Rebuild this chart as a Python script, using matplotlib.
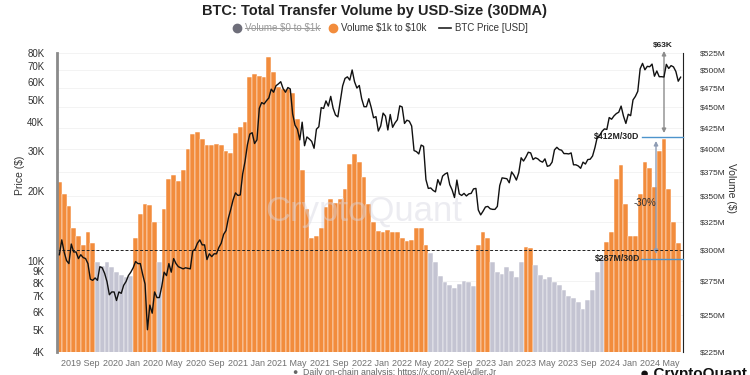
import numpy as np
import pandas as pd
import matplotlib
matplotlib.use('Agg')
import matplotlib.pyplot as plt
import matplotlib.dates as mdates
from matplotlib.ticker import FixedLocator, FixedFormatter, NullLocator
from matplotlib.transforms import blended_transform_factory
from matplotlib.lines import Line2D

plt.rcParams['font.family'] = ['Liberation Sans', 'DejaVu Sans']

# ---------------- data ----------------
start_date = '2019-07-01'

# Volume $1k to $10k (30DMA), $M, one reading every 14 days
volume_1k_10k = [364, 352, 340, 320, 313, 305, 316, 306, 290, 287,
                 290, 286, 282, 280, 278, 279, 311, 333, 342, 341,
                 325, 290, 337, 367, 372, 365, 377, 400, 417, 420,
                 411, 405, 405, 406, 404, 398, 395, 419, 426, 432,
                 490, 494, 492, 490, 519, 498, 477, 474, 474, 469,
                 435, 377, 337, 311, 313, 320, 339, 347, 343, 347,
                 357, 383, 394, 385, 369, 342, 325, 317, 316, 318,
                 316, 316, 311, 308, 309, 320, 320, 305, 298, 290,
                 279, 274, 272, 270, 273, 275, 274, 271, 305, 316,
                 311, 290, 282, 281, 286, 283, 278, 290, 303, 302,
                 288, 280, 277, 278, 274, 272, 268, 264, 262, 259,
                 254, 261, 268, 282, 294, 307, 316, 367, 382, 342,
                 313, 313, 352, 386, 379, 359, 398, 412, 357, 325,
                 306]

# BTC price (USD), one reading every 7 days
price_2019 = [10600, 12300, 10900, 10000, 9700, 11800, 10900, 10900, 10200, 10600,
              10300, 10200, 9700, 8300, 8200, 8400, 8200, 9400, 9300, 8800,
              8100, 7100, 7300, 7300, 6700, 7300, 7200]
price_2020 = [7800, 8100, 8600, 8900, 9300, 9900, 9700, 9700, 8700, 7900,
              5000, 6400, 5900, 7300, 6900, 6900, 7700, 8900, 8600, 9700,
              8900, 10200, 9700, 9400, 9300, 9200, 9300, 9250, 9200, 11000,
              11200, 11900, 12300, 11700, 11700, 10100, 10700, 10400, 10700, 10700,
              11400, 11900, 13000, 13500, 15300, 16700, 18400, 19700, 19200, 19300,
              23800, 27000]
price_2021 = [31900, 35500, 36000, 32300, 33500, 46000, 48700, 48000, 49600, 51000,
              55700, 54000, 57600, 58700, 60000, 56000, 54000, 56600, 55800, 43500,
              38800, 37300, 33500, 40000, 31600, 34500, 33800, 33000, 30800, 37300,
              38200, 46300, 45900, 49500, 47000, 51800, 46000, 43000, 42200, 49200,
              57500, 62000, 63000, 61000, 67500, 60000, 56300, 57800, 50600, 46700,
              46700, 50600]
price_2022 = [46400, 41800, 42300, 36600, 38500, 43800, 42500, 37000, 43200, 38000,
              39700, 41000, 47100, 46600, 39500, 40800, 40400, 38500, 30100, 29800,
              29100, 31800, 31400, 22500, 20600, 20700, 20200, 19900, 22500, 21300,
              23300, 23800, 24100, 21400, 20300, 18800, 22400, 19500, 19200, 19600,
              19100, 19500, 19600, 20500, 20600, 16600, 15800, 16400, 17100, 17200,
              16800, 16700]
price_2023 = [16700, 17200, 21200, 22900, 22800, 22700, 21800, 24300, 23500, 22400,
              24100, 28000, 27100, 28200, 29600, 29400, 27500, 28000, 27700, 27100,
              26800, 27700, 25700, 25900, 26800, 30300, 31100, 30400, 30200, 29200,
              29200, 29100, 29400, 26100, 26100, 25800, 25200, 26800, 26300, 27500,
              27600, 28500, 31000, 34500, 35000, 36500, 37400, 37200, 41900, 41200,
              42600, 43600]
price_2024 = [44200, 47000, 42500, 39500, 43300, 42700, 50000, 51800, 54500, 68300,
              72100, 67600, 70000, 69700, 71600, 63400, 66800, 63100, 63100, 62900,
              71400, 68500, 70500, 69600, 66500, 60300, 62800]
price_usd = price_2019 + price_2020 + price_2021 + price_2022 + price_2023 + price_2024

price_ticks = [4000, 5000, 6000, 7000, 8000, 9000, 10000, 20000, 30000, 40000,
               50000, 60000, 70000, 80000]
price_tick_labels = ['4K', '5K', '6K', '7K', '8K', '9K', '10K', '20K', '30K', '40K',
                     '50K', '60K', '70K', '80K']
volume_ticks = [225, 250, 275, 300, 325, 350, 375, 400, 425, 450, 475, 500, 525]
volume_tick_labels = ['$%dM' % v for v in volume_ticks]
color_threshold = 300      # $M
reference_level = 300      # dashed line, $M
level_high = 414
level_low = 293

ORANGE = '#F28C3C'
GRAY = '#C4C4D2'

vol_dates = pd.date_range(start_date, periods=len(volume_1k_10k), freq='14D')
price_dates = pd.date_range(start_date, periods=len(price_usd), freq='7D')
vol = np.array(volume_1k_10k, dtype=float)
colors = [ORANGE if v >= color_threshold else GRAY for v in vol]

# ---------------- figure ----------------
fig = plt.figure(figsize=(7.5, 3.75), dpi=100)
W, H = 750.0, 375.0
x0, x1, ytop, ybot = 57, 683, 53, 352
ax = fig.add_axes([x0 / W, 1 - ybot / H, (x1 - x0) / W, (ybot - ytop) / H])

base = 100.0
ax.bar(vol_dates, vol - base, bottom=base, width=14, color=colors,
       edgecolor='white', linewidth=0.35, zorder=2)
ax.set_yscale('log')
ax.set_ylim(225, 525)
ax.grid(axis='y', color='#f1f1f1', lw=0.6, zorder=0)
ax.set_axisbelow(True)
ax.axhline(reference_level, color='#222222', ls=(0, (3, 2)), lw=0.7, zorder=4)

ax.set_xlim(pd.Timestamp('2019-06-24'), pd.Timestamp('2024-07-08'))
ax.xaxis.set_major_locator(mdates.MonthLocator(bymonth=[1, 5, 9]))
ax.xaxis.set_major_formatter(mdates.DateFormatter('%Y %b'))
ax.tick_params(axis='x', length=0, labelsize=6.5, labelcolor='#707070', pad=5)

ax2 = ax.twinx()
ax2.plot(price_dates, price_usd, color='#111111', lw=1.0, zorder=5)
ax2.set_yscale('log')
ax2.set_ylim(4000, 80000)

# volume axis on the right
ax.yaxis.set_major_locator(FixedLocator(volume_ticks))
ax.yaxis.set_major_formatter(FixedFormatter(volume_tick_labels))
ax.yaxis.set_minor_locator(NullLocator())
ax.yaxis.tick_right()
ax.tick_params(axis='y', which='both', left=False, labelleft=False, right=False,
               labelright=True, length=0, labelsize=6.0, labelcolor='#333333', pad=12)

# price axis on the left
ax2.yaxis.set_major_locator(FixedLocator(price_ticks))
ax2.yaxis.set_major_formatter(FixedFormatter(price_tick_labels))
ax2.yaxis.set_minor_locator(NullLocator())
ax2.yaxis.tick_left()
ax2.tick_params(axis='y', which='both', right=False, labelright=False, left=False,
                labelleft=True, length=0, labelsize=7, labelcolor='#333333', pad=9)

for s in ['top', 'bottom', 'left']:
    ax.spines[s].set_visible(False)
ax.spines['right'].set_color('#222222')
ax.spines['right'].set_linewidth(0.8)
for s in ['top', 'bottom', 'right']:
    ax2.spines[s].set_visible(False)
ax2.spines['left'].set_color('#8a8a8a')
ax2.spines['left'].set_linewidth(2.0)

# watermark
ax2.text(0.49, 0.47, 'CryptoQuant', transform=ax2.transAxes, fontsize=25,
         color='#d6d6e2', alpha=0.45, ha='center', va='center', zorder=1)

# annotations
tr = blended_transform_factory(ax.transAxes, ax.transData)
fx = lambda px: (px - x0) / (x1 - x0)
ax.plot([fx(642), 1.0], [level_high, level_high], transform=tr, color='#4d94cc',
        lw=1.0, zorder=6, clip_on=False)
ax.plot([fx(641), 1.0], [level_low, level_low], transform=tr, color='#4d94cc',
        lw=1.0, zorder=6, clip_on=False)
ax.text(fx(639), level_high, '\\$412M/30D', transform=tr, ha='right', va='center',
        fontsize=6.3, fontweight='bold', color='#222222', zorder=7)
ax.text(fx(640), level_low, '\\$287M/30D', transform=tr, ha='right', va='center',
        fontsize=6.3, fontweight='bold', color='#222222', zorder=7)
ax.annotate('', xy=(664, H - 133), xytext=(664, H - 51), xycoords='figure pixels',
            textcoords='figure pixels',
            arrowprops=dict(arrowstyle='<|-|>', color='#8c8c8c', lw=1.0,
                            mutation_scale=6, shrinkA=0, shrinkB=0))
ax.annotate('', xy=(656, H - 254), xytext=(656, H - 141), xycoords='figure pixels',
            textcoords='figure pixels',
            arrowprops=dict(arrowstyle='<|-|>', color='#8e9cb4', lw=1.0,
                            mutation_scale=6, shrinkA=0, shrinkB=0))
fig.text(663 / W, 1 - 45 / H, '\\$63K', ha='center', va='center', fontsize=6,
         fontweight='bold', color='#222222')
fig.text(645 / W, 1 - 203 / H, '-30%', ha='center', va='center', fontsize=7,
         color='#333333')

# axis labels
fig.text(20 / W, 1 - 175 / H, 'Price ($)', rotation=90, ha='center', va='center',
         fontsize=7.5, color='#333333')
fig.text(731 / W, 1 - 188 / H, 'Volume ($)', rotation=270, ha='center', va='center',
         fontsize=7.5, color='#333333')

# title
fig.text(0.5, 1 - 11 / H, 'BTC: Total Transfer Volume by USD-Size (30DMA)',
         ha='center', va='center', fontsize=10.5, fontweight='bold', color='#222222')

# legend (manual)
ly = 1 - 28 / H
fig.add_artist(Line2D([237 / W], [ly], marker='o', ms=6, color='#6e6e7a',
                      transform=fig.transFigure, ls='none'))
t_hidden = fig.text(245 / W, ly, 'Volume \\$0 to \\$1k', ha='left', va='center',
                    fontsize=7, color='#9a9a9a')
fig.add_artist(Line2D([333 / W], [ly], marker='o', ms=6, color=ORANGE,
                      transform=fig.transFigure, ls='none'))
fig.text(341 / W, ly, 'Volume \\$1k to \\$10k', ha='left', va='center', fontsize=7,
         color='#333333')
fig.add_artist(Line2D([439 / W, 451 / W], [ly, ly], color='#222222', lw=1.2,
                      transform=fig.transFigure))
fig.text(455 / W, ly, 'BTC Price [USD]', ha='left', va='center', fontsize=7,
         color='#333333')

# footer
fig.text(395 / W, 1 - 368 / H, '\u25cf  Daily on-chain analysis: https://x.com/AxelAdler.Jr',
         ha='center', va='top', fontsize=6.3, color='#666666')
fig.text(640 / W, 1 - 367 / H, '\u25cf CryptoQuant', ha='left', va='top', fontsize=11,
         fontweight='bold', color='#111111')

fig.canvas.draw()
bb = t_hidden.get_window_extent()
inv = fig.transFigure.inverted()
(a0, b0), (a1, b1) = inv.transform([[bb.x0, bb.y0], [bb.x1, bb.y1]])
fig.add_artist(Line2D([a0, a1], [(b0 + b1) / 2] * 2, color='#9a9a9a', lw=0.7,
                      transform=fig.transFigure))

fig.savefig('out.png', dpi=100)
